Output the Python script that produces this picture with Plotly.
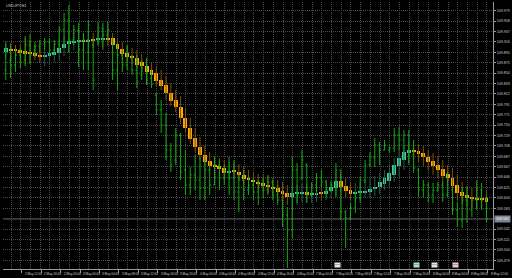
import plotly.graph_objects as go

chart_title = "USDJPY,H1"
bars = list(range(100))

# Heiken Ashi candles (price)
ha_open = [109.896,109.902,109.902,109.900,109.898,109.896,109.894,109.890,109.886,109.888,
           109.890,109.894,109.904,109.912,109.914,109.916,109.920,109.916,109.922,109.920,
           109.920,109.924,109.924,109.912,109.902,109.894,109.888,109.884,109.876,109.868,
           109.860,109.854,109.840,109.830,109.814,109.800,109.786,109.764,109.744,109.724,
           109.706,109.690,109.678,109.670,109.668,109.664,109.654,109.658,109.656,109.650,
           109.644,109.640,109.636,109.634,109.630,109.626,109.624,109.618,109.614,109.606,
           109.612,109.612,109.616,109.610,109.610,109.614,109.612,109.618,109.624,109.638,
           109.628,109.620,109.612,109.614,109.614,109.616,109.622,109.626,109.632,109.638,
           109.650,109.668,109.680,109.694,109.698,109.698,109.694,109.686,109.678,109.670,
           109.662,109.652,109.644,109.630,109.616,109.610,109.606,109.604,109.602,109.604]
ha_close = [109.904,109.898,109.898,109.894,109.892,109.892,109.888,109.886,109.890,109.894,
            109.896,109.904,109.912,109.918,109.918,109.920,109.916,109.920,109.918,109.924,
            109.924,109.920,109.910,109.902,109.892,109.886,109.884,109.870,109.868,109.856,
            109.850,109.838,109.828,109.814,109.798,109.786,109.764,109.744,109.722,109.706,
            109.690,109.676,109.668,109.666,109.662,109.654,109.658,109.656,109.650,109.642,
            109.640,109.636,109.632,109.628,109.626,109.622,109.616,109.612,109.606,109.614,
            109.616,109.616,109.610,109.614,109.614,109.612,109.618,109.626,109.638,109.626,
            109.618,109.612,109.616,109.618,109.618,109.622,109.626,109.636,109.644,109.654,
            109.670,109.684,109.696,109.700,109.696,109.692,109.686,109.676,109.668,109.660,
            109.648,109.644,109.628,109.614,109.608,109.604,109.602,109.600,109.600,109.596]
ha_high = [109.912,109.914,109.910,109.912,109.924,109.920,109.910,109.908,109.904,109.910,
           109.912,109.924,109.928,109.940,109.936,109.940,109.934,109.936,109.934,109.940,
           109.944,109.940,109.934,109.924,109.916,109.908,109.904,109.900,109.892,109.884,
           109.876,109.868,109.860,109.848,109.834,109.820,109.808,109.784,109.764,109.744,
           109.726,109.708,109.696,109.688,109.684,109.680,109.676,109.674,109.672,109.668,
           109.660,109.656,109.652,109.650,109.648,109.644,109.640,109.636,109.630,109.628,
           109.630,109.634,109.632,109.628,109.630,109.632,109.634,109.640,109.656,109.652,
           109.644,109.636,109.634,109.636,109.640,109.644,109.648,109.654,109.660,109.670,
           109.684,109.700,109.710,109.716,109.714,109.712,109.708,109.700,109.694,109.686,
           109.680,109.670,109.664,109.650,109.636,109.628,109.624,109.624,109.620,109.620]
ha_low = [109.884,109.876,109.880,109.876,109.872,109.876,109.880,109.876,109.868,109.872,
          109.876,109.880,109.888,109.896,109.900,109.890,109.900,109.896,109.904,109.908,
          109.906,109.908,109.900,109.888,109.880,109.874,109.872,109.864,109.856,109.848,
          109.840,109.828,109.820,109.800,109.788,109.776,109.752,109.736,109.712,109.696,
          109.680,109.668,109.660,109.656,109.652,109.644,109.640,109.644,109.640,109.632,
          109.628,109.624,109.620,109.616,109.614,109.610,109.604,109.600,109.590,109.580,
          109.590,109.596,109.596,109.594,109.596,109.600,109.600,109.604,109.606,109.616,
          109.606,109.600,109.596,109.600,109.604,109.604,109.608,109.612,109.620,109.624,
          109.636,109.648,109.660,109.670,109.680,109.676,109.668,109.660,109.650,109.644,
          109.632,109.628,109.616,109.600,109.592,109.588,109.584,109.584,109.580,109.576]

# Green OHLC bars (price)
bar_open = [109.860,109.880,109.870,109.890,109.880,109.910,109.900,109.908,109.912,109.916,
            109.900,109.912,109.940,109.960,109.920,109.940,109.900,109.920,109.910,109.920,
            109.944,109.930,109.920,109.860,109.890,109.870,109.884,109.860,109.850,109.864,
            109.844,109.810,109.780,109.750,109.700,109.680,109.730,109.660,109.630,109.650,
            109.640,109.624,109.660,109.630,109.670,109.644,109.656,109.644,109.616,109.640,
            109.620,109.630,109.616,109.630,109.620,109.636,109.610,109.600,109.570,109.540,
            109.660,109.644,109.670,109.610,109.630,109.644,109.636,109.620,109.630,109.660,
            109.576,109.564,109.584,109.604,109.640,109.670,109.684,109.710,109.700,109.700,
            109.704,109.730,109.720,109.730,109.690,109.660,109.620,109.630,109.610,109.620,
            109.630,109.610,109.620,109.580,109.560,109.600,109.580,109.600,109.620,109.600]
bar_high = [109.916,109.910,109.900,109.904,109.928,109.932,109.916,109.920,109.924,109.924,
            109.920,109.948,109.974,109.990,109.950,109.954,109.934,109.960,109.920,109.956,
            109.954,109.956,109.926,109.914,109.900,109.910,109.890,109.890,109.880,109.884,
            109.860,109.814,109.800,109.774,109.714,109.744,109.734,109.700,109.666,109.690,
            109.686,109.680,109.670,109.686,109.680,109.670,109.686,109.680,109.650,109.660,
            109.650,109.644,109.640,109.644,109.650,109.640,109.630,109.600,109.586,109.686,
            109.674,109.700,109.674,109.636,109.654,109.660,109.640,109.636,109.674,109.660,
            109.580,109.594,109.614,109.646,109.680,109.696,109.724,109.716,109.720,109.706,
            109.744,109.746,109.740,109.740,109.720,109.664,109.640,109.636,109.634,109.636,
            109.636,109.656,109.626,109.596,109.626,109.626,109.606,109.640,109.634,109.610]
bar_low = [109.840,109.844,109.856,109.864,109.868,109.872,109.886,109.896,109.900,109.888,
           109.890,109.900,109.910,109.894,109.910,109.866,109.860,109.860,109.820,109.910,
           109.900,109.920,109.840,109.820,109.856,109.860,109.850,109.824,109.840,109.830,
           109.824,109.770,109.734,109.680,109.656,109.670,109.640,109.610,109.610,109.620,
           109.600,109.600,109.610,109.630,109.620,109.630,109.610,109.600,109.576,109.600,
           109.610,109.600,109.590,109.604,109.610,109.600,109.590,109.546,109.464,109.524,
           109.594,109.640,109.594,109.606,109.616,109.626,109.606,109.616,109.606,109.560,
           109.504,109.560,109.574,109.594,109.634,109.666,109.666,109.670,109.700,109.694,
           109.696,109.700,109.696,109.674,109.654,109.606,109.604,109.596,109.594,109.616,
           109.596,109.606,109.570,109.546,109.544,109.554,109.566,109.580,109.580,109.556]
bar_close = [109.900,109.870,109.890,109.876,109.910,109.890,109.908,109.912,109.916,109.900,
             109.912,109.940,109.960,109.920,109.940,109.900,109.920,109.950,109.840,109.944,
             109.930,109.940,109.860,109.890,109.870,109.896,109.860,109.836,109.864,109.840,
             109.832,109.780,109.750,109.700,109.670,109.730,109.656,109.630,109.650,109.640,
             109.624,109.660,109.630,109.670,109.644,109.656,109.644,109.616,109.640,109.620,
             109.630,109.616,109.630,109.620,109.636,109.610,109.600,109.570,109.540,109.660,
             109.610,109.680,109.610,109.630,109.644,109.636,109.620,109.630,109.660,109.576,
             109.564,109.584,109.604,109.640,109.670,109.684,109.710,109.700,109.710,109.704,
             109.730,109.720,109.730,109.690,109.664,109.620,109.630,109.610,109.620,109.630,
             109.610,109.640,109.580,109.560,109.600,109.580,109.600,109.620,109.600,109.562]

time_labels = ["2 May 08:00","2 May 12:00","2 May 16:00","2 May 20:00","3 May 00:00",
               "3 May 04:00","3 May 08:00","3 May 12:00","3 May 16:00","3 May 20:00",
               "4 May 00:00","4 May 04:00","4 May 08:00","4 May 12:00","4 May 16:00",
               "4 May 20:00","7 May 00:00","7 May 04:00","7 May 08:00","7 May 12:00",
               "7 May 16:00","7 May 20:00","8 May 00:00","8 May 04:00","8 May 08:00",
               "8 May 12:00"]
label_bars = [4 * k - 0.7 for k in range(len(time_labels))]
grid_bars = [2 * k + 1.1 for k in range(51)]

event_bars = [68.4, 84.6, 88.4, 92.6]
event_colors = ["#e8e8e8", "#a8e0e0", "#e8e8e8", "#f0c8d0"]

TEAL = "#46c79a"
ORANGE = "#ffa800"
TEAL_WICK = "#1e5c47"
ORANGE_WICK = "#7a5207"
GREEN = "#14a814"
GRID = "#4a4a4a"
AXIS = "#9a9a9a"
TXT = "#d0d0d0"
FONT = "Liberation Sans"

fig = go.Figure()

# Heiken Ashi wicks
fig.add_trace(go.Ohlc(
    x=bars, open=ha_open, high=ha_high, low=ha_low, close=ha_close,
    tickwidth=0,
    increasing=dict(line=dict(color=TEAL_WICK, width=1)),
    decreasing=dict(line=dict(color=ORANGE_WICK, width=1)),
    hoverinfo="skip"))

# Price bars
fig.add_trace(go.Ohlc(
    x=bars, open=bar_open, high=bar_high, low=bar_low, close=bar_close,
    tickwidth=0.3,
    increasing=dict(line=dict(color=GREEN, width=1)),
    decreasing=dict(line=dict(color=GREEN, width=1)),
    hoverinfo="skip"))

# Heiken Ashi bodies
body_base = [min(o, c) for o, c in zip(ha_open, ha_close)]
body_h = [max(abs(c - o), 0.003) for o, c in zip(ha_open, ha_close)]
body_col = [TEAL if c > o else ORANGE for o, c in zip(ha_open, ha_close)]
fig.add_trace(go.Bar(x=bars, y=body_h, base=body_base, width=0.8,
                     marker=dict(color=body_col, line=dict(width=0)),
                     hoverinfo="skip"))

last = bar_close[-1]
fig.add_shape(type="line", xref="paper", x0=0, x1=1, yref="y", y0=last, y1=last,
              line=dict(color="#5c5c5c", width=1), layer="below")

annotations = []
for b, t in zip(label_bars, time_labels):
    annotations.append(dict(x=b, y=0, xref="x", yref="paper", text=t, showarrow=False,
                            xanchor="left", yanchor="top", xshift=1, yshift=-1,
                            font=dict(size=3.1, color=TXT, family=FONT)))
for b, c in zip(event_bars, event_colors):
    annotations.append(dict(x=b, y=0, xref="x", yref="paper", text="▪▪▪▪", showarrow=False,
                            xanchor="center", yanchor="bottom", yshift=1,
                            bgcolor=c, borderpad=0,
                            font=dict(size=3.5, color="#707070", family=FONT)))
annotations.append(dict(x=1, y=last, xref="paper", yref="y", text=f"{last:.3f}",
                        showarrow=False, xanchor="left", yanchor="middle", xshift=1,
                        bgcolor="#7c8592", borderpad=1,
                        font=dict(size=3.6, color="#ffffff", family=FONT)))
annotations.append(dict(x=0, y=1, xref="paper", yref="paper", text=chart_title,
                        showarrow=False, xanchor="left", yanchor="top", xshift=1, yshift=0,
                        font=dict(size=3.8, color="#d0d0d0", family=FONT)))

fig.update_layout(
    width=512, height=278,
    margin=dict(l=3, r=17, t=2, b=9),
    paper_bgcolor="black", plot_bgcolor="black",
    showlegend=False, bargap=0,
    annotations=annotations,
    xaxis=dict(
        range=[-0.574, 100.35], rangeslider=dict(visible=False),
        tickmode="array", tickvals=label_bars, ticks="outside", ticklen=3,
        tickcolor=AXIS, showticklabels=False, showgrid=False, zeroline=False,
        showline=True, linecolor=AXIS, linewidth=1,
        minor=dict(tickmode="array", tickvals=grid_bars, showgrid=True,
                   gridcolor=GRID, griddash="1px,1px", gridwidth=1, ticks=""),
    ),
    yaxis=dict(
        side="right", range=[109.462, 109.996],
        tick0=109.9786, dtick=0.0208, tickformat=".3f",
        ticks="outside", ticklen=2, tickcolor=AXIS,
        tickfont=dict(size=3.6, color=TXT, family=FONT),
        showgrid=True, gridcolor=GRID, griddash="1px,1px", gridwidth=1,
        zeroline=False, showline=True, linecolor=AXIS, linewidth=1,
    ),
)

fig.write_html("out.html")
